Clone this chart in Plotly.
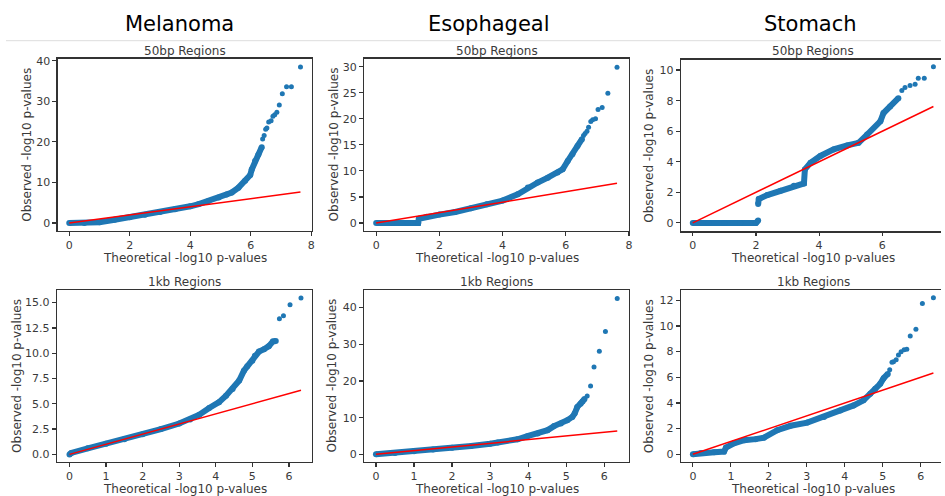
import plotly.graph_objects as go

W, H = 945, 496

# ---------------- data ----------------
# Melanoma, 50bp regions
mel50_dense_x = [0.0, 0.5, 1.0, 1.5, 2.0, 2.5, 3.0, 3.5, 4.0, 4.28, 4.6, 4.94, 5.2, 5.37, 5.59, 5.81, 5.98, 6.03, 6.14, 6.25, 6.36]
mel50_dense_y = [0.0, 0.0, 0.15, 0.8, 1.4, 2.0, 2.7, 3.4, 4.1, 4.65, 5.4, 6.3, 7.0, 7.5, 8.7, 10.4, 11.8, 13.2, 15.3, 16.9, 18.7]
mel50_tail_x = [6.39, 6.44, 6.49, 6.53, 6.59, 6.67, 6.73, 6.79, 6.86, 6.94, 7.04, 7.18, 7.34, 7.64]
mel50_tail_y = [20.7, 21.6, 23.1, 23.4, 24.9, 25.2, 26.3, 26.7, 27.3, 29.1, 31.9, 33.6, 33.6, 38.5]

# Esophageal, 50bp regions
eso50_dense_x = [0.0, 0.5, 1.0, 1.33, 1.35, 1.6, 2.0, 2.5, 3.0, 3.5, 4.0, 4.48, 4.8, 5.11, 5.43, 5.74, 5.90, 6.06, 6.21, 6.37, 6.51]
eso50_dense_y = [0.0, 0.0, 0.0, 0.0, 0.8, 1.2, 1.6, 2.1, 2.8, 3.6, 4.3, 5.5, 6.8, 7.76, 8.7, 9.7, 10.3, 11.9, 13.2, 14.8, 16.1]
eso50_tail_x = [6.56, 6.61, 6.67, 6.72, 6.79, 6.85, 6.94, 7.02, 7.15, 7.33, 7.62]
eso50_tail_y = [16.8, 17.2, 17.6, 18.4, 19.5, 19.8, 20.0, 21.8, 22.2, 24.9, 29.9]

# Stomach, 50bp regions
sto50_dense_x = [0.0, 0.5, 1.0, 1.5, 2.0, 2.07, None, 2.07, 2.09, 2.36, 2.78, 3.20, 3.52, 3.55, 3.73, 4.04, 4.46, 4.89, 5.25, 5.52, 5.94, 6.04, 6.25, 6.51]
sto50_dense_y = [0.0, 0.0, 0.0, 0.0, 0.0, 0.15, None, 1.23, 1.56, 1.82, 2.1, 2.43, 2.58, 3.5, 3.94, 4.38, 4.81, 5.07, 5.24, 5.78, 6.65, 7.19, 7.62, 8.16]
sto50_tail_x = [6.62, 6.72, 6.88, 7.04, 7.14, 7.33, 7.62]
sto50_tail_y = [8.66, 8.86, 8.99, 9.07, 9.46, 9.46, 10.22]

# Melanoma, 1kb regions
mel1k_dense_x = [0.0, 0.05, 0.5, 1.0, 1.5, 2.0, 2.5, 3.0, 3.3, 3.55, 3.82, 4.09, 4.28, 4.46, 4.64, 4.77, 4.86, 5.0, 5.07, 5.18, 5.32, 5.45, 5.56, 5.64]
mel1k_dense_y = [0.0, 0.15, 0.6, 1.05, 1.5, 2.0, 2.5, 3.05, 3.45, 3.92, 4.58, 5.16, 5.8, 6.47, 7.3, 8.27, 8.7, 9.25, 9.74, 10.16, 10.4, 10.7, 11.15, 11.2]
mel1k_tail_x = [5.74, 5.85, 6.03, 6.33]
mel1k_tail_y = [13.4, 13.7, 14.8, 15.46]

# Esophageal, 1kb regions
eso1k_dense_x = [0.0, 0.5, 1.0, 1.5, 2.0, 2.5, 3.0, 3.2, 3.72, 3.98, 4.25, 4.51, 4.68, 4.86, 5.03, 5.16, 5.22, 5.29, 5.38, 5.43, 5.48]
eso1k_dense_y = [0.0, 0.4, 0.85, 1.3, 1.8, 2.3, 2.9, 3.2, 4.1, 4.95, 5.7, 6.6, 7.7, 8.4, 9.3, 10.2, 11.1, 12.9, 13.8, 14.4, 15.1]
eso1k_tail_x = [5.55, 5.64, 5.73, 5.87, 6.03, 6.34]
eso1k_tail_y = [15.9, 18.6, 23.8, 28.1, 33.5, 42.5]

# Stomach, 1kb regions
sto1k_dense_x = [0.0, 0.21, 0.56, 0.82, 0.87, 1.08, 1.35, 1.65, 1.87, 2.22, 2.57, 3.01, 3.45, 3.88, 4.23, 4.49, 4.67, 4.80, 4.93, 5.02, 5.13]
sto1k_dense_y = [0.0, 0.1, 0.15, 0.21, 0.52, 0.85, 1.1, 1.18, 1.29, 1.88, 2.22, 2.47, 2.91, 3.42, 3.81, 4.2, 4.71, 5.1, 5.49, 5.93, 6.26]
sto1k_tail_x = [5.18, 5.24, 5.28, 5.35, 5.41, 5.48, 5.56, 5.63, 5.72, 5.87, 6.04, 6.33]
sto1k_tail_y = [6.59, 7.16, 7.21, 7.37, 7.73, 7.98, 8.14, 8.19, 9.22, 9.74, 11.75, 12.19]

column_titles = ["Melanoma", "Esophageal", "Stomach"]
row_titles = ["50bp Regions", "1kb Regions"]
x_label = "Theoretical -log10 p-values"
y_label = "Observed -log10 p-values"

# ---------------- layout (pixel boxes of the six panels) ----------------
panels = [
    dict(dx=mel50_dense_x, dy=mel50_dense_y, tx=mel50_tail_x, ty=mel50_tail_y,
         box=(58, 55, 313.3, 229), xr=[-0.38, 8.02], yr=[-2.03, 40.56],
         xt=[0, 2, 4, 6, 8], yt=[0, 10, 20, 30, 40], fmt="d", ylab_x=27, row=0, right=True),
    dict(dx=eso50_dense_x, dy=eso50_dense_y, tx=eso50_tail_x, ty=eso50_tail_y,
         box=(365.7, 55, 631.7, 229), xr=[-0.38, 8.0], yr=[-1.58, 31.58],
         xt=[0, 2, 4, 6, 8], yt=[0, 5, 10, 15, 20, 25, 30], fmt="d", ylab_x=335, row=0, right=True),
    dict(dx=sto50_dense_x, dy=sto50_dense_y, tx=sto50_tail_x, ty=sto50_tail_y,
         box=(684, 56, 945, 229.3), xr=[-0.37, 7.86], yr=[-0.56, 10.69],
         xt=[0, 2, 4, 6], yt=[0, 2, 4, 6, 8, 10], fmt="d", ylab_x=652, row=0, right=False),
    dict(dx=mel1k_dense_x, dy=mel1k_dense_y, tx=mel1k_tail_x, ty=mel1k_tail_y,
         box=(57.3, 288.3, 313.3, 461.7), xr=[-0.34, 6.63], yr=[-0.75, 16.25],
         xt=[0, 1, 2, 3, 4, 5, 6], yt=[0, 2.5, 5, 7.5, 10, 12.5, 15], fmt=".1f", ylab_x=17, row=1, right=True),
    dict(dx=eso1k_dense_x, dy=eso1k_dense_y, tx=eso1k_tail_x, ty=eso1k_tail_y,
         box=(365.7, 288.3, 631.7, 461.7), xr=[-0.31, 6.65], yr=[-2.08, 44.8],
         xt=[0, 1, 2, 3, 4, 5, 6], yt=[0, 10, 20, 30, 40], fmt="d", ylab_x=333, row=1, right=True),
    dict(dx=sto1k_dense_x, dy=sto1k_dense_y, tx=sto1k_tail_x, ty=sto1k_tail_y,
         box=(684, 288.3, 945, 461.7), xr=[-0.31, 6.53], yr=[-0.6, 12.8],
         xt=[0, 1, 2, 3, 4, 5, 6], yt=[0, 2, 4, 6, 8, 10, 12], fmt="d", ylab_x=652, row=1, right=False),
]

BLUE = "#1f77b4"
RED = "#ff0000"
SPINE = "#333333"
TXT = "#3a3a3a"
FONT = "DejaVu Sans"

fig = go.Figure()
layout = dict(width=W, height=H, margin=dict(l=0, r=0, t=0, b=0),
              paper_bgcolor="white", plot_bgcolor="white", showlegend=False,
              font=dict(family=FONT, size=11, color=TXT))
annotations = []

def px2x(px):
    return px / W

def px2y(py):
    return 1 - py / H

for i, p in enumerate(panels):
    n = "" if i == 0 else str(i + 1)
    xa, ya = "x" + n, "y" + n
    x0, y0, x1, y1 = p["box"]
    layout["xaxis" + n] = dict(
        domain=[px2x(x0), px2x(x1)], range=p["xr"], anchor=ya,
        tickvals=p["xt"], ticktext=[str(v) for v in p["xt"]],
        ticks="outside", ticklen=3.5, tickwidth=1.2, tickcolor=SPINE,
        showline=True, linecolor=SPINE, linewidth=1.3, mirror=True,
        showgrid=False, zeroline=False, tickfont=dict(size=11, color=TXT))
    ytext = [("%.1f" % v) if p["fmt"] == ".1f" else str(int(v)) for v in p["yt"]]
    layout["yaxis" + n] = dict(
        domain=[px2y(y1), px2y(y0)], range=p["yr"], anchor=xa,
        tickvals=p["yt"], ticktext=ytext,
        ticks="outside", ticklen=4, tickwidth=1.2, tickcolor=SPINE,
        showline=True, linecolor=SPINE, linewidth=1.3, mirror=p["right"],
        showgrid=False, zeroline=False, tickfont=dict(size=11, color=TXT))

    # dense part of the QQ cloud
    fig.add_trace(go.Scatter(x=p["dx"], y=p["dy"], xaxis=xa, yaxis=ya, mode="lines+markers",
                             line=dict(color=BLUE, width=6), marker=dict(color=BLUE, size=6),
                             connectgaps=False, hoverinfo="skip"))
    # sparse tail points
    fig.add_trace(go.Scatter(x=p["tx"], y=p["ty"], xaxis=xa, yaxis=ya, mode="markers",
                             marker=dict(color=BLUE, size=5), hoverinfo="skip"))
    # expected y = x line
    xs = [v for v in p["dx"] + p["tx"] if v is not None]
    xm = max(xs)
    fig.add_trace(go.Scatter(x=[0, xm], y=[0, xm], xaxis=xa, yaxis=ya, mode="lines",
                             line=dict(color=RED, width=1.5), hoverinfo="skip"))

    cx = (x0 + x1) / 2
    if not p["right"]:
        cx = (x0 + 949.5) / 2
    # subplot title
    ty = 47 if p["row"] == 0 else 280
    annotations.append(dict(text=row_titles[p["row"]], x=px2x(cx), y=px2y(ty), xref="paper", yref="paper",
                            xanchor="center", yanchor="middle", showarrow=False,
                            font=dict(size=12, color=TXT, family=FONT)))
    # x label
    lx = 256 if p["row"] == 0 else 488.5
    annotations.append(dict(text=x_label, x=px2x(cx), y=px2y(lx), xref="paper", yref="paper",
                            xanchor="center", yanchor="middle", showarrow=False,
                            font=dict(size=12, color=TXT, family=FONT)))
    # y label
    annotations.append(dict(text=y_label, x=px2x(p["ylab_x"]), y=px2y((y0 + y1) / 2), xref="paper", yref="paper",
                            xanchor="center", yanchor="middle", showarrow=False, textangle=-90,
                            font=dict(size=12, color=TXT, family=FONT)))

# column titles
for t, cx in zip(column_titles, [180, 491, 814]):
    annotations.append(dict(text=t, x=px2x(cx), y=px2y(20), xref="paper", yref="paper",
                            xanchor="center", yanchor="middle", showarrow=False,
                            font=dict(size=21, color="black", family=FONT)))

layout["annotations"] = annotations
layout["shapes"] = [dict(type="line", xref="paper", yref="paper",
                         x0=px2x(6), x1=1, y0=px2y(37), y1=px2y(37),
                         line=dict(color="#dddddd", width=1))]
fig.update_layout(**layout)
fig.write_html("out.html",
               config=dict(displayModeBar=False, staticPlot=True),
               post_script="document.body.style.margin='0';document.body.style.overflow='hidden';")
